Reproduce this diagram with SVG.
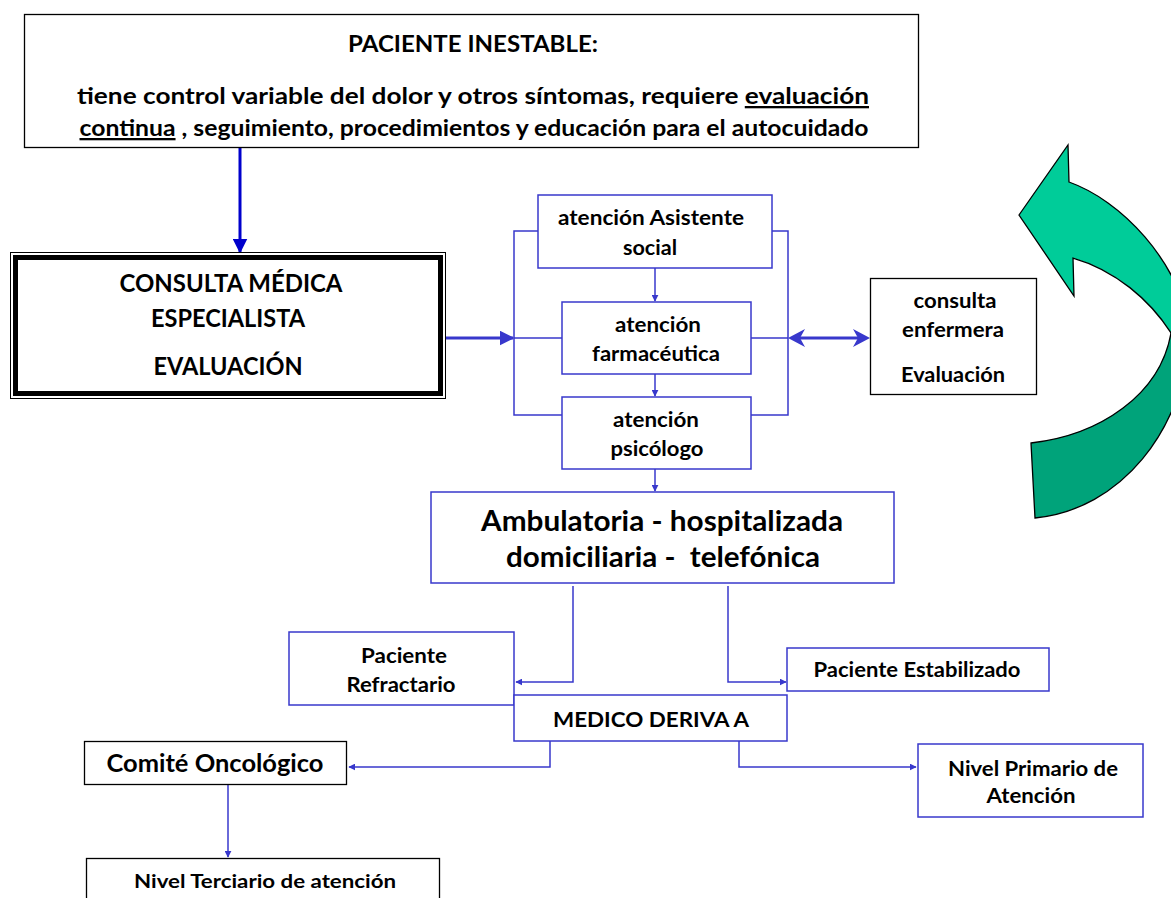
<svg xmlns="http://www.w3.org/2000/svg" width="1171" height="898" viewBox="0 0 1171 898">
<defs>
<style>
text{font-family:Lato,"Liberation Sans",sans-serif;font-weight:bold;fill:#000;text-anchor:middle}
.bb{fill:#fff;stroke:#000;stroke-width:1.3}
.bl{fill:#fff;stroke:#3838CC;stroke-width:1.5}
.c{fill:none;stroke:#3838CC;stroke-width:1.5}
.ct{fill:none;stroke:#3838CC;stroke-width:3}
.u{text-decoration:underline}
</style>
<marker id="ah" viewBox="0 0 10 10" refX="9" refY="5" markerWidth="7" markerHeight="7" markerUnits="userSpaceOnUse" orient="auto"><path d="M0,0 L10,5 L0,10 Z" fill="#3838CC"/></marker>
<marker id="ah2" viewBox="0 0 10 10" refX="9" refY="5" markerWidth="5" markerHeight="5" orient="auto"><path d="M0,0 L10,5 L0,10 Z" fill="#3838CC"/></marker>
<marker id="ahb" viewBox="0 0 10 10" refX="9" refY="5" markerWidth="5" markerHeight="5" orient="auto"><path d="M0,0 L10,5 L0,10 Z" fill="#0000CC"/></marker>
</defs>

<g id="cycle-arrow" stroke="#000" stroke-width="1.3" stroke-linejoin="miter">
<path d="M1019,215 L1068,145 L1069,182 C1120,200 1180,260 1190,333 L1171,333 C1150,300 1115,270 1073,258 L1074,296 Z" fill="#00CC99"/>
<path d="M1031,443 C1100,435 1160,395 1171,333 L1190,333 C1185,430 1120,510 1035,518 Z" fill="#00A37A"/>
</g>

<g id="connectors">
<line x1="240" y1="148" x2="240" y2="252" stroke="#0000CC" stroke-width="3" marker-end="url(#ahb)"/>
<line x1="446" y1="338" x2="513" y2="338" class="ct" marker-end="url(#ah2)"/>
<path class="c" d="M538,231 H514 V415 H562 M514,338 H562"/>
<path class="c" d="M772,231 H788 V415 H751 M751,338 H788"/>
<line x1="655" y1="268" x2="655" y2="301" class="c" marker-end="url(#ah)"/>
<line x1="655" y1="374" x2="655" y2="396" class="c" marker-end="url(#ah)"/>
<line x1="655" y1="469" x2="655" y2="491" class="c" marker-end="url(#ah)"/>
<line x1="800" y1="338" x2="858" y2="338" class="ct"/>
<path d="M788,338 L805,329 L800,338 L805,347 Z" fill="#3838CC"/>
<path d="M870,338 L853,329 L858,338 L853,347 Z" fill="#3838CC"/>
<path class="c" d="M573,586 V682 H516" marker-end="url(#ah)" stroke-width="2"/>
<path class="c" d="M728,586 V682 H786" marker-end="url(#ah)" stroke-width="2"/>
<path class="c" d="M550,741 V767 H349" marker-end="url(#ah)" stroke-width="2"/>
<path class="c" d="M739,741 V767 H916" marker-end="url(#ah)" stroke-width="2"/>
<line x1="228" y1="785" x2="228" y2="857" class="c" marker-end="url(#ah)"/>
</g>

<g id="paciente-inestable">
<rect class="bb" x="24.5" y="14.5" width="894" height="133"/>
<text x="473" y="52" font-size="22" textLength="250" lengthAdjust="spacingAndGlyphs">PACIENTE INESTABLE:</text>
<text x="473" y="104" font-size="23" textLength="792" lengthAdjust="spacingAndGlyphs">tiene control variable del dolor y otros síntomas, requiere <tspan class="u">evaluación</tspan></text>
<text x="474" y="136" font-size="23" textLength="789" lengthAdjust="spacingAndGlyphs"><tspan class="u">continua</tspan> , seguimiento, procedimientos y educación para el autocuidado</text>
</g>

<g id="consulta-medica">
<rect x="10.5" y="252.5" width="435" height="146" fill="#fff" stroke="#000" stroke-width="1"/>
<rect x="15.5" y="257.5" width="425" height="136" fill="none" stroke="#000" stroke-width="5"/>
<text x="231" y="292" font-size="24" textLength="223" lengthAdjust="spacingAndGlyphs">CONSULTA MÉDICA</text>
<text x="228" y="327" font-size="24" textLength="154" lengthAdjust="spacingAndGlyphs">ESPECIALISTA</text>
<text x="228" y="375" font-size="24" textLength="149" lengthAdjust="spacingAndGlyphs">EVALUACIÓN</text>
</g>

<g id="asistente-social">
<rect class="bl" x="538" y="195" width="234" height="73"/>
<text x="651" y="225" font-size="20" textLength="186" lengthAdjust="spacingAndGlyphs">atención Asistente</text>
<text x="650" y="255" font-size="20" textLength="54" lengthAdjust="spacingAndGlyphs">social</text>
</g>

<g id="farmaceutica">
<rect class="bl" x="562" y="302" width="189" height="72"/>
<text x="658" y="332" font-size="20" textLength="86" lengthAdjust="spacingAndGlyphs">atención</text>
<text x="656" y="361" font-size="20" textLength="128" lengthAdjust="spacingAndGlyphs">farmacéutica</text>
</g>

<g id="psicologo">
<rect class="bl" x="562" y="397" width="189" height="72"/>
<text x="656" y="427" font-size="20" textLength="86" lengthAdjust="spacingAndGlyphs">atención</text>
<text x="657" y="456" font-size="20" textLength="93" lengthAdjust="spacingAndGlyphs">psicólogo</text>
</g>

<g id="consulta-enfermera">
<rect class="bb" x="870.5" y="278.5" width="166" height="116"/>
<text x="955" y="308" font-size="20" textLength="83" lengthAdjust="spacingAndGlyphs">consulta</text>
<text x="953" y="337" font-size="20" textLength="102" lengthAdjust="spacingAndGlyphs">enfermera</text>
<text x="953" y="382" font-size="20" textLength="104" lengthAdjust="spacingAndGlyphs">Evaluación</text>
</g>

<g id="modalidad">
<rect class="bl" x="431" y="492" width="463" height="91"/>
<text x="662" y="531" font-size="29" textLength="362" lengthAdjust="spacingAndGlyphs">Ambulatoria - hospitalizada</text>
<text x="663" y="567" font-size="29" textLength="314" lengthAdjust="spacingAndGlyphs">domiciliaria - &#160;telefónica</text>
</g>

<g id="paciente-refractario">
<rect class="bl" x="289" y="632" width="225" height="73"/>
<text x="404" y="663" font-size="20" textLength="86" lengthAdjust="spacingAndGlyphs">Paciente</text>
<text x="401" y="692" font-size="20" textLength="109" lengthAdjust="spacingAndGlyphs">Refractario</text>
</g>

<g id="paciente-estabilizado">
<rect class="bl" x="787" y="648" width="262" height="43"/>
<text x="917" y="677" font-size="20" textLength="207" lengthAdjust="spacingAndGlyphs">Paciente Estabilizado</text>
</g>

<g id="medico-deriva">
<rect class="bl" x="514" y="695" width="273" height="46"/>
<text x="651" y="727" font-size="21" textLength="196" lengthAdjust="spacingAndGlyphs">MEDICO DERIVA A</text>
</g>

<g id="comite-oncologico">
<rect class="bb" x="84.5" y="741.5" width="262" height="43"/>
<text x="215" y="772" font-size="24" textLength="217" lengthAdjust="spacingAndGlyphs">Comité Oncológico</text>
</g>

<g id="nivel-primario">
<rect class="bl" x="918" y="744" width="225" height="73"/>
<text x="1033" y="776" font-size="20" textLength="170" lengthAdjust="spacingAndGlyphs">Nivel Primario de</text>
<text x="1031" y="803" font-size="20" textLength="89" lengthAdjust="spacingAndGlyphs">Atención</text>
</g>

<g id="nivel-terciario">
<rect class="bb" x="86.5" y="858.5" width="353" height="60"/>
<text x="265" y="888" font-size="19" textLength="262" lengthAdjust="spacingAndGlyphs">Nivel Terciario de atención</text>
</g>
</svg>
